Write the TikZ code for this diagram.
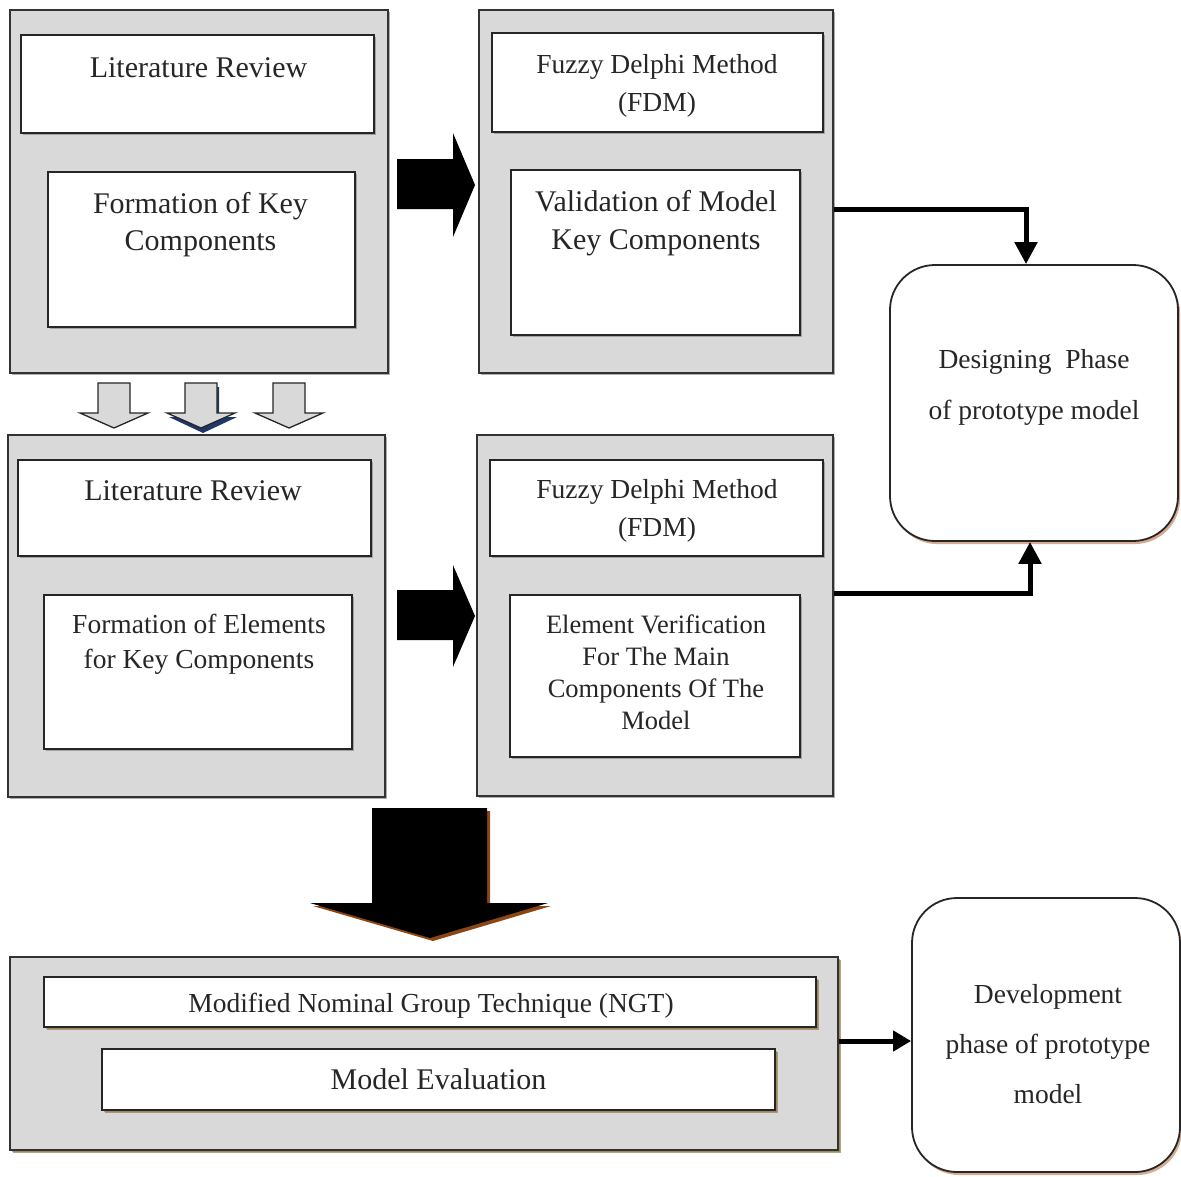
\documentclass[tikz,border=0pt]{standalone}
\usepackage{fontspec}
\setmainfont{Liberation Serif}
\usepackage{xcolor}
\usepackage{tikz}
\usetikzlibrary{arrows.meta, positioning, calc, shadows}

\definecolor{olivesh}{RGB}{150,125,70}
\definecolor{peachsh}{RGB}{205,150,115}
\definecolor{arrowsh}{RGB}{140,70,20}
\definecolor{navysh}{RGB}{30,55,105}

\begin{document}
\begin{tikzpicture}[x=1pt, y=-1pt,
    outerbox/.style={draw=black!80, line width=2pt, fill=black!15,
        drop shadow={shadow xshift=1.5pt, shadow yshift=-1.5pt, fill=black!45, opacity=0.7}},
    innerbox/.style={draw=black!85, line width=1.8pt, fill=white,
        drop shadow={shadow xshift=1.5pt, shadow yshift=-1.5pt, fill=black!45, opacity=0.7}},
    outerlow/.style={outerbox, drop shadow={shadow xshift=2.5pt, shadow yshift=-2.5pt, fill=olivesh, opacity=0.7}},
    innerlow/.style={innerbox, drop shadow={shadow xshift=3pt, shadow yshift=-3pt, fill=olivesh, opacity=0.7}},
    phasebox/.style={draw=black!85, line width=1.8pt, fill=white, rounded corners=45pt,
        drop shadow={shadow xshift=2pt, shadow yshift=-3pt, fill=peachsh, opacity=0.8}},
    txtbig/.style={font=\fontsize{30}{37}\selectfont, text=black!85, align=center, inner sep=0pt},
    txtmid/.style={font=\fontsize{27.5}{38}\selectfont, text=black!85, align=center, inner sep=0pt},
    link/.style={line width=5pt, -{Triangle[length=22pt, width=22pt]}},
    smallarrow/.style={fill=black!15, draw=black!85, line width=1.3pt, line join=miter}]

    \useasboundingbox (0,0) rectangle (1181,1176);

    % first stage
    \node[outerbox, minimum width=378pt, minimum height=363pt] (lo1) at (199,191.5) {};
    \node[innerbox, minimum width=353pt, minimum height=98pt] (lr1) at (197.5,84) {};
    \node[innerbox, minimum width=307pt, minimum height=155pt] (fk1) at (201.5,249.5) {};
    \node[txtbig] (lr1txt) at (198.5,68) {Literature Review};
    \node[txtbig] (fk1txt) at (200.5,224.5) {Formation of Key\\Components};

    \node[outerbox, minimum width=354pt, minimum height=363pt] (ro1) at (656,191.5) {};
    \node[innerbox, minimum width=331pt, minimum height=99pt] (fdm1) at (657.5,82.5) {};
    \node[innerbox, minimum width=289pt, minimum height=165pt] (val1) at (655.5,252.5) {};
    \node[txtmid] (fdm1txt) at (657,86) {Fuzzy Delphi Method\\(FDM)};
    \node[txtbig, font=\fontsize{30}{38}\selectfont] (val1txt) at (656,223) {Validation of Model\\Key Components};

    % second stage
    \node[outerbox, minimum width=377pt, minimum height=362pt] (lo2) at (196.5,616) {};
    \node[innerbox, minimum width=353pt, minimum height=96pt] (lr2) at (194.5,508) {};
    \node[innerbox, minimum width=308pt, minimum height=154pt] (fe2) at (198,672) {};
    \node[txtbig] (lr2txt) at (193,491) {Literature Review};
    \node[txtmid, font=\fontsize{27.5}{35}\selectfont] (fe2txt) at (199,644.5) {Formation of Elements\\for Key Components};

    \node[outerbox, minimum width=356pt, minimum height=361pt] (ro2) at (655,615.5) {};
    \node[innerbox, minimum width=333pt, minimum height=96pt] (fdm2) at (656.5,508) {};
    \node[innerbox, minimum width=290pt, minimum height=162pt] (ev2) at (655,676) {};
    \node[txtmid] (fdm2txt) at (657,511) {Fuzzy Delphi Method\\(FDM)};
    \node[txtmid, font=\fontsize{26.5}{32}\selectfont] (ev2txt) at (656,672) {Element Verification\\For The Main\\Components Of The\\Model};

    % third stage
    \node[outerlow, minimum width=828pt, minimum height=193pt] (bo) at (424,1053.5) {};
    \node[innerlow, minimum width=772pt, minimum height=50pt] (ngt) at (430,1002) {};
    \node[innerlow, txtbig, minimum width=673pt, minimum height=61pt] (me) at (438.5,1079.5) {Model Evaluation};
    \node[txtmid] (ngttxt) at (431,1006) {Modified Nominal Group Technique (NGT)};

    % phases
    \node[phasebox, minimum width=288pt, minimum height=276pt] (design) at (1034,403) {};
    \node[txtmid, font=\fontsize{27.5}{51}\selectfont] (designtxt) at (1034,387.5) {Designing\ \ Phase\\of prototype model};
    \node[phasebox, minimum width=268pt, minimum height=274pt] (dev) at (1046,1035) {};
    \node[txtmid, font=\fontsize{27.5}{50}\selectfont] (devtxt) at (1048,1044) {Development\\phase of prototype\\model};

    % block arrows
    \fill (397,159) -- (453,159) -- (453,133) -- (475,185) -- (453,237) -- (453,209) -- (397,209) -- cycle;
    \fill (397,590) -- (453,590) -- (453,565) -- (475,616) -- (453,667) -- (453,640) -- (397,640) -- cycle;
    \fill[arrowsh] (375,811) -- (490,811) -- (490,906) -- (551,906) -- (433,941) -- (313,906) -- (375,906) -- cycle;
    \fill (372,808) -- (487,808) -- (487,903) -- (548,903) -- (430,938) -- (310,903) -- (372,903) -- cycle;

    \fill[navysh] (187,387) -- (219,387) -- (219,417) -- (237,417) -- (203,433) -- (169,417) -- (187,417) -- cycle;
    \foreach \x in {114,201,289}
        \draw[smallarrow] (\x-16,383) -- (\x+16,383) -- (\x+16,413) -- (\x+34,413)
            -- (\x,428) -- (\x-34,413) -- (\x-16,413) -- cycle;

    % connectors
    \draw[link] ([yshift=-18pt]ro1.east) -| ([xshift=-8pt]design.north);
    \draw[link] ([yshift=22pt]ro2.east) -| ([xshift=-4pt]design.south);
    \draw[link, -{Triangle[length=18pt, width=20pt]}] ([yshift=12.5pt]bo.east) -- ([yshift=12.5pt]bo.east -| dev.west);
\end{tikzpicture}
\end{document}
